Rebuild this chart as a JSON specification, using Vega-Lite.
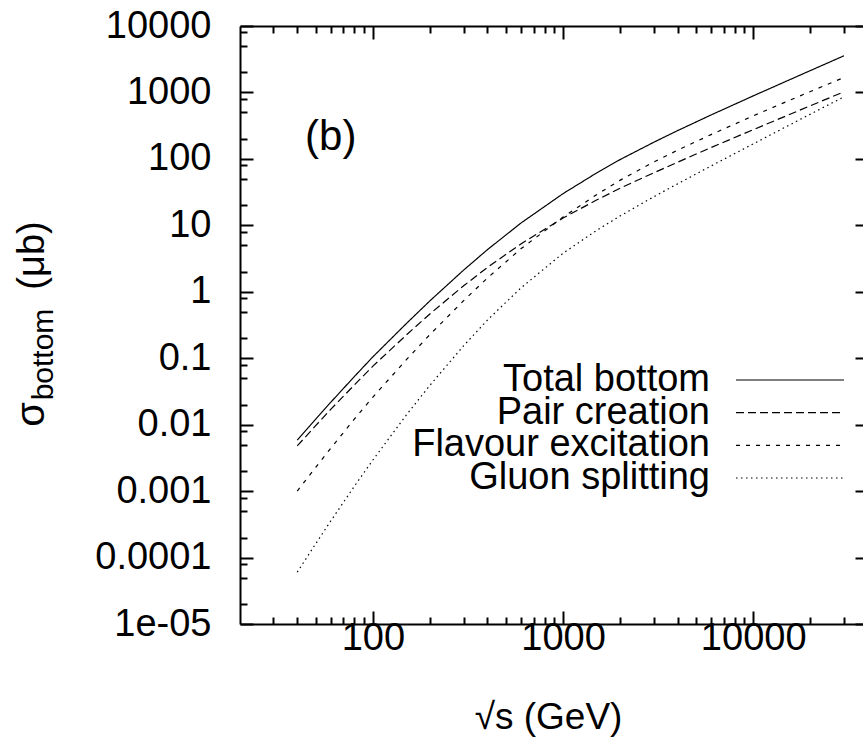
{
  "$schema": "https://vega.github.io/schema/vega-lite/v6.json",
  "width": 623,
  "height": 598,
  "autosize": {"type": "none"},
  "padding": {"left": 240, "top": 26, "right": 0, "bottom": 118},
  "background": "white",
  "config": {
    "font": "Liberation Sans",
    "view": {"stroke": null},
    "axis": {"grid": false, "labelColor": "black", "titleColor": "black", "tickColor": "black", "domainColor": "black", "titleFontWeight": "normal", "tickWidth": 2, "domainWidth": 2},
    "legend": {
      "orient": "none", "title": null, "padding": 0, "legendX": 531,
      "symbolType": "M-10,0H10", "symbolSize": 116.64, "symbolStrokeWidth": 1.2,
      "symbolStrokeColor": "black", "symbolFillColor": "transparent",
      "labelAlign": "right", "labelOffset": -99, "labelFontSize": 38,
      "labelColor": "black", "labelLimit": 0
    }
  },
  "data": {
    "values": [
      {"energy": 40, "sigma": 0.00585, "process": "Total bottom"},
      {"energy": 50, "sigma": 0.0121, "process": "Total bottom"},
      {"energy": 60, "sigma": 0.0217, "process": "Total bottom"},
      {"energy": 80, "sigma": 0.0532, "process": "Total bottom"},
      {"energy": 100, "sigma": 0.105, "process": "Total bottom"},
      {"energy": 150, "sigma": 0.333, "process": "Total bottom"},
      {"energy": 200, "sigma": 0.736, "process": "Total bottom"},
      {"energy": 300, "sigma": 2.12, "process": "Total bottom"},
      {"energy": 400, "sigma": 4.30, "process": "Total bottom"},
      {"energy": 600, "sigma": 10.8, "process": "Total bottom"},
      {"energy": 1000, "sigma": 30.0, "process": "Total bottom"},
      {"energy": 1500, "sigma": 61.3, "process": "Total bottom"},
      {"energy": 2000, "sigma": 98.0, "process": "Total bottom"},
      {"energy": 3000, "sigma": 178, "process": "Total bottom"},
      {"energy": 4000, "sigma": 266, "process": "Total bottom"},
      {"energy": 6000, "sigma": 458, "process": "Total bottom"},
      {"energy": 10000, "sigma": 887, "process": "Total bottom"},
      {"energy": 15000, "sigma": 1484, "process": "Total bottom"},
      {"energy": 20000, "sigma": 2136, "process": "Total bottom"},
      {"energy": 30000, "sigma": 3561, "process": "Total bottom"},

      {"energy": 40, "sigma": 0.00479, "process": "Pair creation"},
      {"energy": 50, "sigma": 0.00966, "process": "Pair creation"},
      {"energy": 60, "sigma": 0.0170, "process": "Pair creation"},
      {"energy": 80, "sigma": 0.0398, "process": "Pair creation"},
      {"energy": 100, "sigma": 0.0759, "process": "Pair creation"},
      {"energy": 150, "sigma": 0.224, "process": "Pair creation"},
      {"energy": 200, "sigma": 0.468, "process": "Pair creation"},
      {"energy": 300, "sigma": 1.23, "process": "Pair creation"},
      {"energy": 400, "sigma": 2.32, "process": "Pair creation"},
      {"energy": 600, "sigma": 5.25, "process": "Pair creation"},
      {"energy": 1000, "sigma": 12.9, "process": "Pair creation"},
      {"energy": 1500, "sigma": 24.0, "process": "Pair creation"},
      {"energy": 2000, "sigma": 36.3, "process": "Pair creation"},
      {"energy": 3000, "sigma": 61.7, "process": "Pair creation"},
      {"energy": 4000, "sigma": 89.1, "process": "Pair creation"},
      {"energy": 6000, "sigma": 148, "process": "Pair creation"},
      {"energy": 10000, "sigma": 275, "process": "Pair creation"},
      {"energy": 15000, "sigma": 447, "process": "Pair creation"},
      {"energy": 20000, "sigma": 631, "process": "Pair creation"},
      {"energy": 30000, "sigma": 1023, "process": "Pair creation"},

      {"energy": 40, "sigma": 0.00100, "process": "Flavour excitation"},
      {"energy": 50, "sigma": 0.00228, "process": "Flavour excitation"},
      {"energy": 60, "sigma": 0.00441, "process": "Flavour excitation"},
      {"energy": 80, "sigma": 0.0122, "process": "Flavour excitation"},
      {"energy": 100, "sigma": 0.0260, "process": "Flavour excitation"},
      {"energy": 150, "sigma": 0.0951, "process": "Flavour excitation"},
      {"energy": 200, "sigma": 0.229, "process": "Flavour excitation"},
      {"energy": 300, "sigma": 0.735, "process": "Flavour excitation"},
      {"energy": 400, "sigma": 1.61, "process": "Flavour excitation"},
      {"energy": 600, "sigma": 4.43, "process": "Flavour excitation"},
      {"energy": 1000, "sigma": 13.3, "process": "Flavour excitation"},
      {"energy": 1500, "sigma": 28.9, "process": "Flavour excitation"},
      {"energy": 2000, "sigma": 47.9, "process": "Flavour excitation"},
      {"energy": 3000, "sigma": 89.7, "process": "Flavour excitation"},
      {"energy": 4000, "sigma": 135, "process": "Flavour excitation"},
      {"energy": 6000, "sigma": 232, "process": "Flavour excitation"},
      {"energy": 10000, "sigma": 444, "process": "Flavour excitation"},
      {"energy": 15000, "sigma": 730, "process": "Flavour excitation"},
      {"energy": 20000, "sigma": 1033, "process": "Flavour excitation"},
      {"energy": 30000, "sigma": 1679, "process": "Flavour excitation"},

      {"energy": 40, "sigma": 0.0000603, "process": "Gluon splitting"},
      {"energy": 50, "sigma": 0.000161, "process": "Gluon splitting"},
      {"energy": 60, "sigma": 0.000355, "process": "Gluon splitting"},
      {"energy": 80, "sigma": 0.00119, "process": "Gluon splitting"},
      {"energy": 100, "sigma": 0.00294, "process": "Gluon splitting"},
      {"energy": 150, "sigma": 0.0140, "process": "Gluon splitting"},
      {"energy": 200, "sigma": 0.0395, "process": "Gluon splitting"},
      {"energy": 300, "sigma": 0.154, "process": "Gluon splitting"},
      {"energy": 400, "sigma": 0.375, "process": "Gluon splitting"},
      {"energy": 600, "sigma": 1.14, "process": "Gluon splitting"},
      {"energy": 1000, "sigma": 3.80, "process": "Gluon splitting"},
      {"energy": 1500, "sigma": 8.38, "process": "Gluon splitting"},
      {"energy": 2000, "sigma": 13.9, "process": "Gluon splitting"},
      {"energy": 3000, "sigma": 26.9, "process": "Gluon splitting"},
      {"energy": 4000, "sigma": 42.1, "process": "Gluon splitting"},
      {"energy": 6000, "sigma": 78.2, "process": "Gluon splitting"},
      {"energy": 10000, "sigma": 168, "process": "Gluon splitting"},
      {"energy": 15000, "sigma": 308, "process": "Gluon splitting"},
      {"energy": 20000, "sigma": 472, "process": "Gluon splitting"},
      {"energy": 30000, "sigma": 859, "process": "Gluon splitting"}
    ]
  },
  "resolve": {
    "axis": {"x": "independent", "y": "independent"},
    "scale": {"strokeDash": "independent"},
    "legend": {"strokeDash": "independent"}
  },
  "layer": [
    {
      "transform": [{"filter": "datum.process === 'Total bottom'"}],
      "mark": {"type": "line", "color": "black", "strokeWidth": 1.2, "clip": true},
      "encoding": {
        "x": {
          "field": "energy", "type": "quantitative",
          "scale": {"type": "log", "domain": [20, 37800], "nice": false},
          "axis": {
            "orient": "bottom", "values": [100, 1000, 10000], "format": "d",
            "ticks": false, "domain": true, "labelFontSize": 38,
            "labelPadding": 25, "labelBaseline": "alphabetic",
            "title": "√s (GeV)", "titleFontSize": 37, "titleX": 308, "titleY": 104,
            "titleAlign": "center", "titleBaseline": "alphabetic"
          }
        },
        "y": {
          "field": "sigma", "type": "quantitative",
          "scale": {"type": "log", "domain": [0.00001, 10000], "nice": false},
          "axis": {
            "orient": "left",
            "values": [0.00001, 0.0001, 0.001, 0.01, 0.1, 1, 10, 100, 1000, 10000],
            "labelExpr": "datum.value < 0.00005 ? '1e-05' : format(datum.value, '~g')",
            "ticks": false, "domain": true, "labelFontSize": 38, "labelPadding": 29,
            "title": "σ", "titleFontSize": 40, "titleAngle": 270, "titleX": -197, "titleY": 388,
            "titleAlign": "center", "titleBaseline": "alphabetic"
          }
        },
        "strokeDash": {
          "field": "process", "type": "nominal",
          "scale": {"domain": ["Total bottom"], "range": [[1, 0]]},
          "legend": {"legendY": 335}
        }
      }
    },
    {
      "transform": [{"filter": "datum.process === 'Pair creation'"}],
      "mark": {"type": "line", "color": "black", "strokeWidth": 1.2, "clip": true},
      "encoding": {
        "x": {"field": "energy", "type": "quantitative", "axis": {
          "orient": "bottom", "values": [100, 1000, 10000], "labels": false,
          "tickSize": 13, "offset": -13, "domain": false, "title": null}},
        "y": {"field": "sigma", "type": "quantitative", "axis": {
          "orient": "left",
          "values": [0.00001, 0.0001, 0.001, 0.01, 0.1, 1, 10, 100, 1000, 10000],
          "labels": false, "tickSize": 13, "offset": -13, "domain": false, "title": null}},
        "strokeDash": {
          "field": "process", "type": "nominal",
          "scale": {"domain": ["Pair creation"], "range": [[8, 4]]},
          "legend": {"legendY": 367.7}
        }
      }
    },
    {
      "transform": [{"filter": "datum.process === 'Flavour excitation'"}],
      "mark": {"type": "line", "color": "black", "strokeWidth": 1.2, "clip": true},
      "encoding": {
        "x": {"field": "energy", "type": "quantitative", "axis": {
          "orient": "bottom",
          "values": [30, 40, 50, 60, 70, 80, 90, 200, 300, 400, 500, 600, 700, 800, 900, 2000, 3000, 4000, 5000, 6000, 7000, 8000, 9000, 20000, 30000],
          "labels": false, "tickSize": 7, "offset": -7, "domain": false, "title": null}},
        "y": {"field": "sigma", "type": "quantitative", "axis": {
          "orient": "left",
          "values": [0.00002, 0.00005, 0.00008, 0.0002, 0.0005, 0.0008, 0.002, 0.005, 0.008, 0.02, 0.05, 0.08, 0.2, 0.5, 0.8, 2, 5, 8, 20, 50, 80, 200, 500, 800, 2000, 5000, 8000],
          "labels": false, "tickSize": 7, "offset": -7, "domain": false, "title": null}},
        "strokeDash": {
          "field": "process", "type": "nominal",
          "scale": {"domain": ["Flavour excitation"], "range": [[4, 6]]},
          "legend": {"legendY": 400.3}
        }
      }
    },
    {
      "transform": [{"filter": "datum.process === 'Gluon splitting'"}],
      "mark": {"type": "line", "color": "black", "strokeWidth": 1.2, "clip": true},
      "encoding": {
        "x": {"field": "energy", "type": "quantitative", "axis": {
          "orient": "top", "values": [100, 1000, 10000], "labels": false,
          "tickSize": 13, "offset": -13, "domain": false, "title": null}},
        "y": {"field": "sigma", "type": "quantitative", "axis": {
          "orient": "right",
          "values": [0.00001, 0.0001, 0.001, 0.01, 0.1, 1, 10, 100, 1000, 10000],
          "labels": false, "tickSize": 8, "offset": -8, "domain": false, "title": null}},
        "strokeDash": {
          "field": "process", "type": "nominal",
          "scale": {"domain": ["Gluon splitting"], "range": [[1.5, 3.5]]},
          "legend": {"legendY": 433}
        }
      }
    },
    {
      "mark": {"type": "line", "opacity": 0},
      "encoding": {
        "x": {"field": "energy", "type": "quantitative", "axis": {
          "orient": "top",
          "values": [30, 40, 50, 60, 70, 80, 90, 200, 300, 400, 500, 600, 700, 800, 900, 2000, 3000, 4000, 5000, 6000, 7000, 8000, 9000, 20000, 30000],
          "labels": false, "tickSize": 7, "offset": -7, "domain": false, "title": null}},
        "y": {"field": "sigma", "type": "quantitative", "axis": {
          "orient": "left", "values": [], "labels": false, "ticks": false, "domain": false,
          "title": "bottom", "titleFontSize": 30, "titleAngle": 270, "titleX": -188, "titleY": 328,
          "titleAlign": "center", "titleBaseline": "alphabetic"}}
      }
    },
    {
      "mark": {"type": "line", "opacity": 0},
      "encoding": {
        "x": {"field": "energy", "type": "quantitative", "axis": {
          "orient": "top", "values": [], "labels": false, "ticks": false, "domain": true, "title": null}},
        "y": {"field": "sigma", "type": "quantitative", "axis": {
          "orient": "left", "values": [], "labels": false, "ticks": false, "domain": false,
          "title": "(μb)", "titleFontSize": 38, "titleAngle": 270, "titleX": -197, "titleY": 229,
          "titleAlign": "center", "titleBaseline": "alphabetic"}}
      }
    },
    {
      "data": {"values": [{"energy": 44, "sigma": 212, "note": "(b)"}]},
      "mark": {"type": "text", "align": "left", "baseline": "middle", "fontSize": 42, "color": "black"},
      "encoding": {
        "x": {"field": "energy", "type": "quantitative", "axis": null},
        "y": {"field": "sigma", "type": "quantitative", "axis": null},
        "text": {"field": "note"}
      }
    }
  ]
}
